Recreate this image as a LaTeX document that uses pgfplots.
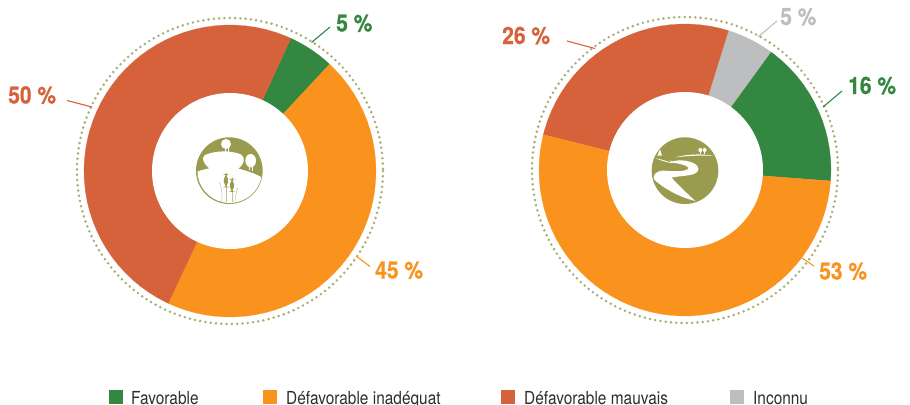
\documentclass[border=0pt]{standalone}
\usepackage{fontspec}
\setmainfont[FakeStretch=0.86]{TeX Gyre Heros}
\newfontfamily\lab[FakeStretch=0.88,BoldFeatures={FakeStretch=0.88,FakeBold=0.5}]{TeX Gyre Heros}
\usepackage{pgfplots}
\usepgfplotslibrary{polar}
\pgfplotsset{compat=1.18}
\definecolor{cgreen}{HTML}{348741}
\definecolor{corange}{HTML}{F9931E}
\definecolor{cred}{HTML}{D6623C}
\definecolor{cgray}{HTML}{BCBEC0}
\definecolor{colive}{HTML}{9B9B50}
\definecolor{cdots}{HTML}{ABAC72}
\definecolor{ctext}{HTML}{2E2E2E}
\pgfplotsset{donut/.style={hide axis,scale only axis,width=292bp,height=292bp,
  xmin=0,xmax=360,ymin=0,ymax=146,clip=false,anchor=center}}
\newcommand{\lbl}[4]{\node[anchor=base west,inner sep=0pt,text=#1] at (#2,#3) {\lab\bfseries\fontsize{24}{24}\selectfont #4};}
\newcommand{\leg}[4]{\fill[#1] (#2,390) rectangle ++(14,14);
  \node[anchor=base west,inner sep=0pt,text=ctext] at (#3,404) {\fontsize{18}{18}\selectfont #4};}
\begin{document}
\begin{tikzpicture}
\useasboundingbox (0,0) rectangle (910bp,-405bp);
% left donut
\begin{polaraxis}[donut,at={(230bp,-171bp)}]
\addplot[fill=cgreen,draw=cgreen,line width=0.2pt] coordinates {(0,0)(47,146)(50,146)(53,146)(56,146)(59,146)(62,146)(65.4,146)} --cycle;
\addplot[fill=corange,draw=corange,line width=0.2pt] coordinates {(0,0)(-115,146)(-112,146)(-108,146)(-104,146)(-100,146)(-96,146)(-92,146)(-88,146)(-84,146)(-80,146)(-76,146)(-72,146)(-68,146)(-64,146)(-60,146)(-56,146)(-52,146)(-48,146)(-44,146)(-40,146)(-36,146)(-32,146)(-28,146)(-24,146)(-20,146)(-16,146)(-12,146)(-8,146)(-4,146)(0,146)(4,146)(8,146)(12,146)(16,146)(20,146)(24,146)(28,146)(32,146)(36,146)(40,146)(44,146)(47,146)} --cycle;
\addplot[fill=cred,draw=cred,line width=0.2pt] coordinates {(0,0)(65.4,146)(68,146)(72,146)(76,146)(80,146)(84,146)(88,146)(92,146)(96,146)(100,146)(104,146)(108,146)(112,146)(116,146)(120,146)(124,146)(128,146)(132,146)(136,146)(140,146)(144,146)(148,146)(152,146)(156,146)(160,146)(164,146)(168,146)(172,146)(176,146)(180,146)(184,146)(188,146)(192,146)(196,146)(200,146)(204,146)(208,146)(212,146)(216,146)(220,146)(224,146)(228,146)(232,146)(236,146)(240,146)(244,146)(245,146)} --cycle;
\end{polaraxis}
% right donut
\begin{polaraxis}[donut,at={(685bp,-170bp)}]
\addplot[fill=cgreen,draw=cgreen,line width=0.2pt] coordinates {(0,0)(-4.3,146)(0,146)(4,146)(8,146)(12,146)(16,146)(20,146)(24,146)(28,146)(32,146)(36,146)(40,146)(44,146)(48,146)(52,146)(54,146)} --cycle;
\addplot[fill=cgray,draw=cgray,line width=0.2pt] coordinates {(0,0)(54,146)(58,146)(62,146)(66,146)(70,146)(72.7,146)} --cycle;
\addplot[fill=cred,draw=cred,line width=0.2pt] coordinates {(0,0)(72.7,146)(76,146)(80,146)(84,146)(88,146)(92,146)(96,146)(100,146)(104,146)(108,146)(112,146)(116,146)(120,146)(124,146)(128,146)(132,146)(136,146)(140,146)(144,146)(148,146)(152,146)(156,146)(160,146)(164,146)(166,146)} --cycle;
\addplot[fill=corange,draw=corange,line width=0.2pt] coordinates {(0,0)(-194,146)(-192,146)(-188,146)(-184,146)(-180,146)(-176,146)(-172,146)(-168,146)(-164,146)(-160,146)(-156,146)(-152,146)(-148,146)(-144,146)(-140,146)(-136,146)(-132,146)(-128,146)(-124,146)(-120,146)(-116,146)(-112,146)(-108,146)(-104,146)(-100,146)(-96,146)(-92,146)(-88,146)(-84,146)(-80,146)(-76,146)(-72,146)(-68,146)(-64,146)(-60,146)(-56,146)(-52,146)(-48,146)(-44,146)(-40,146)(-36,146)(-32,146)(-28,146)(-24,146)(-20,146)(-16,146)(-12,146)(-8,146)(-4.3,146)} --cycle;
\end{polaraxis}
\begin{scope}[x=1bp,y=-1bp]
% holes and rings
\fill[white] (230,171) circle[radius=78];
\fill[white] (685,170) circle[radius=78];
\draw[cdots,line width=2.8bp,line cap=round,dash pattern=on 0bp off 5.3bp] (230,171) circle[radius=153];
\draw[cdots,line width=2.8bp,line cap=round,dash pattern=on 0bp off 5.3bp] (685,170) circle[radius=153];
% left icon (coordinates in 3x zoomed pixels)
\begin{scope}[shift={(150,100)},scale=1/3]
\fill[colive] (238,212) circle[radius=100];
\fill[white] (165,165) .. controls (195,152) and (240,150) .. (272,163)
  .. controls (290,175) and (280,195) .. (265,206)
  .. controls (290,212) and (320,222) .. (334,232)
  arc[start angle=12,end angle=178,radius=97]
  .. controls (155,208) and (170,208) .. (178,205)
  .. controls (165,195) and (150,175) .. (165,165) -- cycle;
\fill[white] (228,132) circle[radius=15];
\fill[white] (225,140) rectangle (229,157);
\fill[white] (233,140) rectangle (236,155);
\fill[white] (302,182) ellipse[x radius=16,y radius=20];
\fill[white] (296,195) rectangle (300,210);
\fill[white] (306,195) rectangle (310,214);
\draw[colive!60,line width=0.5bp] (215,305) .. controls (218,280) and (215,260) .. (208,247);
\draw[colive!60,line width=0.5bp] (254,305) .. controls (258,285) and (258,275) .. (264,262);
\draw[colive!60,line width=0.7bp] (228,218) -- (228,306);
\draw[colive!60,line width=0.7bp] (246,232) -- (246,306);
\fill[colive,rounded corners=5pt] (222,222) rectangle (234,262);
\fill[colive,rounded corners=5pt] (240,237) rectangle (252,276);
\end{scope}
% right icon
\begin{scope}[shift={(620,100)},scale=1/3]
\fill[colive] (195,212) circle[radius=100];
\fill[white] (150,186) .. controls (175,178) and (200,180) .. (222,190)
  .. controls (240,200) and (240,215) .. (222,222)
  .. controls (205,228) and (175,228) .. (155,233)
  .. controls (165,245) and (190,270) .. (226,303)
  .. controls (190,295) and (135,270) .. (102,238)
  .. controls (97,225) and (110,210) .. (135,212)
  .. controls (165,215) and (200,215) .. (205,205)
  .. controls (205,195) and (170,190) .. (150,186) -- cycle;
\fill[white] (165,172) .. controls (200,163) and (240,160) .. (282,168)
  .. controls (240,165) and (200,168) .. (165,172) -- cycle;
\fill[white] (106,175) .. controls (125,178) and (140,183) .. (160,190) -- (150,180) -- (155,190)
  .. controls (135,185) and (120,180) .. (106,175) -- cycle;
\fill[white] (120,148) -- (126,167) -- (112,167) -- cycle;
\fill[white] (241,150) circle[radius=6];
\fill[white] (254,150) circle[radius=6];
\fill[white] (239,152) rectangle (243,163);
\fill[white] (252,152) rectangle (256,163);
\end{scope}
% labels and leaders
\draw[cgreen,line width=1.1bp] (311.5,42.5) -- (330,27);
\lbl{cgreen}{336}{31.5}{5 \%}
\draw[cred,line width=1.1bp] (67,100.5) -- (92,107);
\lbl{cred}{8}{103.5}{50 \%}
\draw[corange,line width=1.1bp] (356,256) -- (370,266.5);
\lbl{corange}{375}{278.5}{45 \%}
\draw[cgreen,line width=1.1bp] (823,107) -- (842,91);
\lbl{cgreen}{848}{94}{16 \%}
\draw[corange,line width=1.1bp] (802,258) -- (814,266);
\lbl{corange}{819}{279.5}{53 \%}
\draw[cred,line width=1.1bp] (567,41) -- (595,48.5);
\lbl{cred}{502}{44}{26 \%}
\draw[cgray,line width=1.1bp] (758,37) -- (777,21);
\lbl{cgray}{780}{25}{5 \%}
% legend
\leg{cgreen}{109}{131}{Favorable}
\leg{corange}{263}{286}{Défavorable inadéquat}
\leg{cred}{501}{524}{Défavorable mauvais}
\leg{cgray}{730}{753}{Inconnu}
\end{scope}
\end{tikzpicture}
\end{document}
